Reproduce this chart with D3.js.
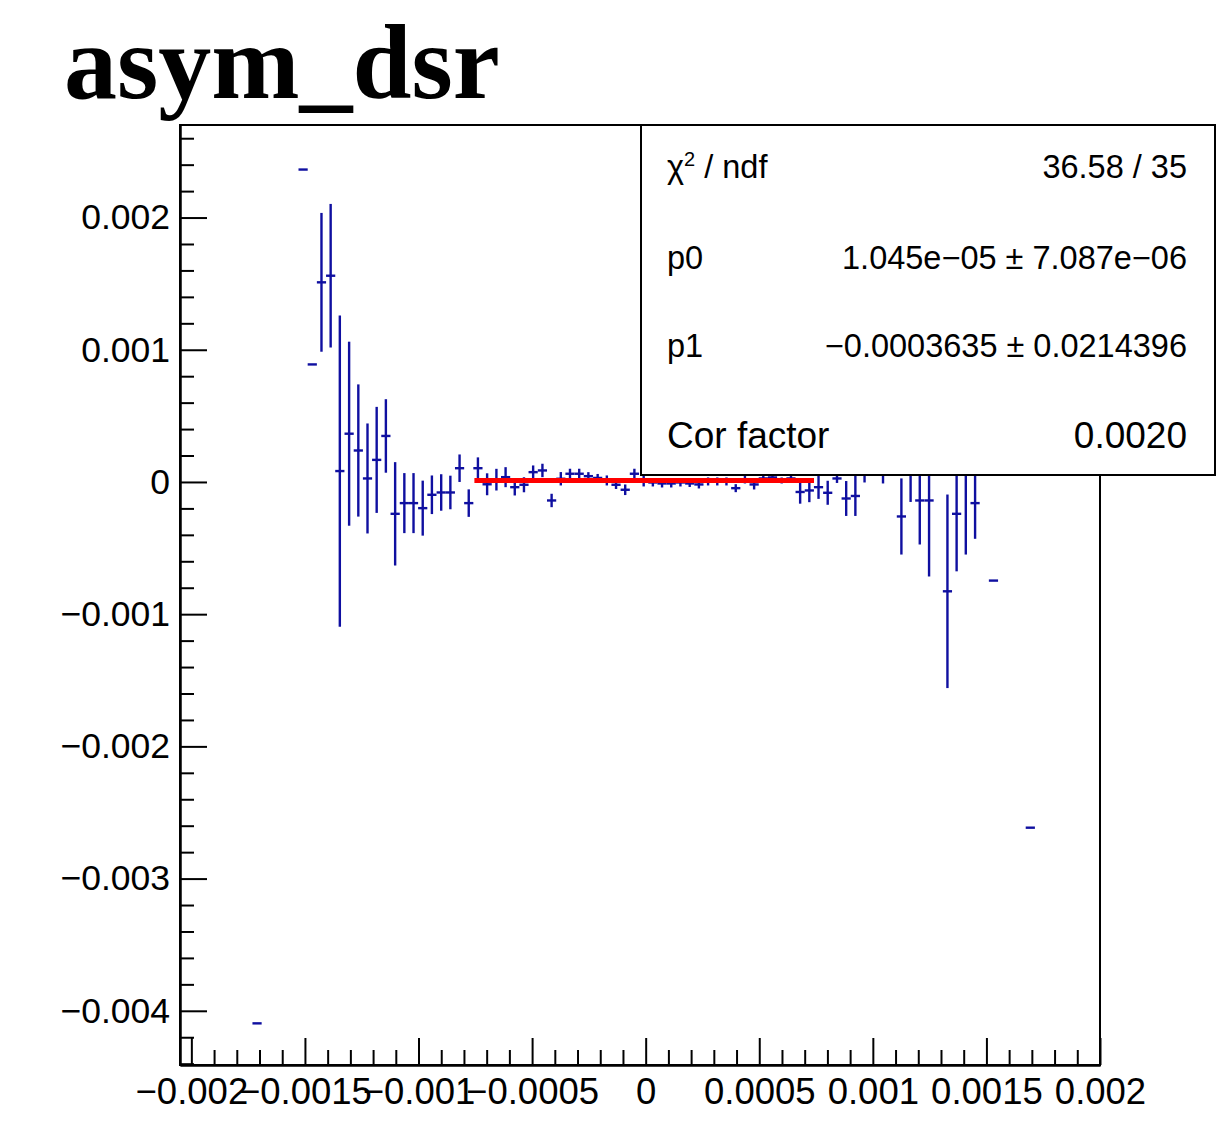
<!DOCTYPE html>
<html>
<head>
<meta charset="utf-8">
<script src="https://cdn.jsdelivr.net/npm/d3@7"></script>
<style>
  html, body { margin: 0; padding: 0; background: #fff; }
  svg { display: block; }
</style>
</head>
<body>
<script>
// Bin centres of the asym_dsr histogram (filled bins only)
const binCenters = [
  -0.0017108, -0.0015081, -0.0014677, -0.0014272, -0.0013868, -0.0013464, -0.0013055,
  -0.0012650, -0.0012246, -0.0011842, -0.0011437, -0.0011029, -0.0010624, -0.0010220,
  -0.0009815, -0.0009411, -0.0009002, -0.0008598, -0.0008193, -0.0007789, -0.0007385,
  -0.0006980, -0.0006571, -0.0006167, -0.0005763, -0.0005358, -0.0004954, -0.0004545,
  -0.0004141, -0.0003736, -0.0003332, -0.0002927, -0.0002523, -0.0002114, -0.0001710,
  -0.0001305, -0.0000901, -0.0000497, -0.0000088, 0.0000316, 0.0000721, 0.0001125,
  0.0001530, 0.0001938, 0.0002343, 0.0002747, 0.0003152, 0.0003556, 0.0003965,
  0.0004369, 0.0004774, 0.0005178, 0.0005582, 0.0005987, 0.0006396, 0.0006800,
  0.0007204, 0.0007609, 0.0008013, 0.0008422, 0.0008826, 0.0009231, 0.0009635,
  0.0010448, 0.0011257, 0.0011662, 0.0012066, 0.0012475, 0.0013284, 0.0013688,
  0.0014092, 0.0014501, 0.0015310, 0.0016932
];

// Bin contents
const binValues = [
  -0.004095, 0.002363, 0.000889, 0.001510, 0.001560, 0.0000825, 0.000365,
  0.000238, 0.0000265, 0.000167, 0.000348, -0.000241, -0.000160, -0.000160,
  -0.000198, -0.0000969, -0.0000795, -0.0000795, 0.000104, -0.000160, 0.000104,
  -0.0000175, 0.0000174, 0.0000363, -0.0000394, -0.0000212, 0.0000742, 0.0000871,
  -0.000140, 0.0000242, 0.0000621, 0.0000621, 0.0000439, 0.0000303, 0.0000114,
  -0.0000212, -0.0000590, 0.0000621, 0.0000114, -0.0000038, -0.0000114, -0.0000114,
  -0.0000038, -0.0000114, -0.0000189, 0.0000038, 0.0000038, 0.0000038, -0.0000469,
  0.0000189, -0.0000189, 0.0000265, 0.0000340, 0.0000114, 0.0000265, -0.0000757,
  -0.0000643, -0.0000394, -0.0000818, 0.0000265, -0.000125, -0.000106, 0.0000719,
  0.0000643, -0.000261, 0.0000568, -0.000140, -0.000140, -0.000827, -0.000241,
  0.000102, -0.000160, -0.000746, -0.002615
];

// Bin errors
const binErrors = [
  0, 0, 0, 0.000525, 0.000543, 0.001177, 0.000696,
  0.000500, 0.000416, 0.000401, 0.000278, 0.000391, 0.000227, 0.000227,
  0.000208, 0.000146, 0.000138, 0.000127, 0.000104, 0.000104, 0.0000820,
  0.0000830, 0.0000820, 0.0000757, 0.0000628, 0.0000568, 0.0000507, 0.0000507,
  0.0000507, 0.0000507, 0.0000379, 0.0000379, 0.0000303, 0.0000303, 0.0000379,
  0.0000318, 0.0000401, 0.0000379, 0.0000454, 0.0000303, 0.0000303, 0.0000303,
  0.0000303, 0.0000265, 0.0000303, 0.0000303, 0.0000303, 0.0000303, 0.0000303,
  0.0000303, 0.0000379, 0.0000303, 0.0000303, 0.0000227, 0.0000303, 0.0000886,
  0.0000886, 0.0000886, 0.0000908, 0.0000340, 0.000132, 0.000151, 0.0000757,
  0.0000757, 0.000288, 0.000208, 0.000333, 0.000575, 0.000732, 0.000435,
  0.000651, 0.000270, 0, 0
];

const binWidth = 0.0000405;

// Fit result: pol1 over the central region
const fitRange = [-0.000754, 0.000741];
const fitP0 = 1.045e-05;
const fitP1 = -0.0003635;

// Axis ticks
const xMajorTicks = [-0.002, -0.0015, -0.001, -0.0005, 0, 0.0005, 0.001, 0.0015, 0.002];
const xTickLabels = ["\u22120.002", "\u22120.0015", "\u22120.001", "\u22120.0005", "0", "0.0005", "0.001", "0.0015", "0.002"];
const yMajorTicks = [-0.004, -0.003, -0.002, -0.001, 0, 0.001, 0.002];
const yTickLabels = ["\u22120.004", "\u22120.003", "\u22120.002", "\u22120.001", "0", "0.001", "0.002"];

// Statistics box rows
const statLabels = ["\u03c7", "p0", "p1", "Cor factor"];
const statValues = ["36.58 / 35", "1.045e\u221205 \u00b1 7.087e\u221206", "\u22120.0003635 \u00b1 0.0214396", "0.0020"];

const W = 1216, H = 1133;
const frame = { left: 180, right: 1100, top: 125, bottom: 1065 };

const svg = d3.select("body").append("svg")
  .attr("width", W).attr("height", H)
  .style("font-family", "'Liberation Sans', Arial, Helvetica, sans-serif");

const x = d3.scaleLinear().domain([-0.00205, 0.002]).range([frame.left, frame.right]);
const y = d3.scaleLinear().domain([-0.00441, 0.0027]).range([frame.bottom, frame.top]);

// minor tick positions
const xMinor = d3.range(-20, 21).map(i => i * 0.0001).filter(v => !xMajorTicks.some(t => Math.abs(t - v) < 1e-9));
const yMinor = d3.range(-22, 14).map(i => i * 0.0002).filter(v => !yMajorTicks.some(t => Math.abs(t - v) < 1e-9));

// Title
svg.append("text")
  .attr("x", 64).attr("y", 98)
  .style("font-family", "'Liberation Serif', 'Times New Roman', serif")
  .style("font-weight", "bold")
  .style("font-size", "106px")
  .attr("fill", "#000")
  .text("asym_dsr");

// Frame
svg.append("rect")
  .attr("x", frame.left).attr("y", frame.top)
  .attr("width", frame.right - frame.left).attr("height", frame.bottom - frame.top)
  .attr("fill", "none").attr("stroke", "#000").attr("stroke-width", 2);

// X axis (ticks pointing into the frame)
const gx = svg.append("g").attr("transform", `translate(0,${frame.bottom})`);
gx.call(d3.axisBottom(x).tickValues(xMajorTicks).tickSizeInner(-27).tickSizeOuter(0).tickPadding(13)
  .tickFormat((d, i) => xTickLabels[i]));
gx.append("g").call(d3.axisBottom(x).tickValues(xMinor).tickSizeInner(-15).tickSizeOuter(0).tickFormat(""));

// Y axis
const gy = svg.append("g").attr("transform", `translate(${frame.left},0)`);
gy.call(d3.axisLeft(y).tickValues(yMajorTicks).tickSizeInner(-27).tickSizeOuter(0).tickPadding(10)
  .tickFormat((d, i) => yTickLabels[i]));
gy.append("g").call(d3.axisLeft(y).tickValues(yMinor).tickSizeInner(-14).tickSizeOuter(0).tickFormat(""));

svg.selectAll(".domain").attr("stroke", "#000").attr("stroke-width", 2);
svg.selectAll(".tick line").attr("stroke", "#000").attr("stroke-width", 2);
gx.selectAll(".tick text")
  .style("font-family", "'Liberation Sans', Arial, Helvetica, sans-serif")
  .style("font-size", "36.5px").attr("fill", "#000");
gy.selectAll(".tick text")
  .style("font-family", "'Liberation Sans', Arial, Helvetica, sans-serif")
  .style("font-size", "35.5px").attr("fill", "#000");

// Data points: bin-width marker plus vertical error bar
const points = binCenters.map((c, i) => ({ c, v: binValues[i], e: binErrors[i] }));
const gData = svg.append("g").attr("stroke", "#0f0fa0").attr("stroke-width", 2.4).attr("fill", "none");

gData.selectAll("line.err").data(points.filter(p => p.e > 0)).join("line")
  .attr("class", "err")
  .attr("x1", p => x(p.c)).attr("x2", p => x(p.c))
  .attr("y1", p => y(p.v - p.e)).attr("y2", p => y(p.v + p.e));

gData.selectAll("line.bin").data(points).join("line")
  .attr("class", "bin")
  .attr("x1", p => x(p.c - binWidth / 2)).attr("x2", p => x(p.c + binWidth / 2))
  .attr("y1", p => y(p.v)).attr("y2", p => y(p.v));

// Fitted line
const fitLine = d3.line().x(d => x(d)).y(d => y(fitP0 + fitP1 * d));
svg.append("path")
  .datum(fitRange)
  .attr("d", fitLine)
  .attr("stroke", "#ff0000").attr("stroke-width", 5).attr("fill", "none");

// Statistics box
const box = { x: 641, y: 125, w: 574, h: 350 };
svg.append("rect")
  .attr("x", box.x).attr("y", box.y).attr("width", box.w).attr("height", box.h)
  .attr("fill", "#fff").attr("stroke", "#000").attr("stroke-width", 2);

const rowBaselines = [178, 269, 357, 448];
const rowSizes = [32.5, 32.5, 32.5, 37];
const gStats = svg.append("g").attr("fill", "#000");

statLabels.forEach((lab, i) => {
  const t = gStats.append("text")
    .attr("x", 667).attr("y", rowBaselines[i])
    .style("font-size", rowSizes[i] + "px");
  if (i === 0) {
    t.append("tspan").text(lab);
    t.append("tspan").attr("dy", -12).style("font-size", "20px").text("2");
    t.append("tspan").attr("dy", 12).text(" / ndf");
  } else {
    t.text(lab);
  }
  gStats.append("text")
    .attr("x", 1187).attr("y", rowBaselines[i])
    .attr("text-anchor", "end")
    .style("font-size", rowSizes[i] + "px")
    .text(statValues[i]);
});
</script>
</body>
</html>
